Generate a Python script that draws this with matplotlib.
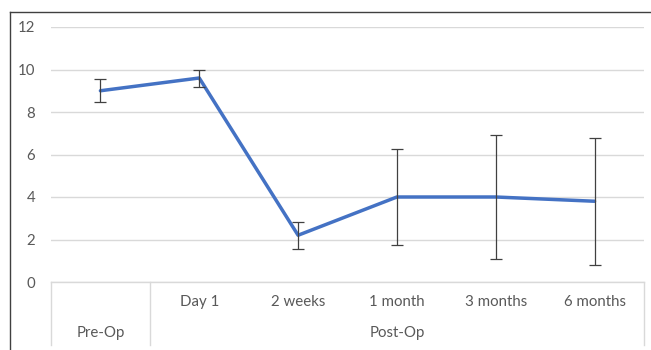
import matplotlib
matplotlib.use("Agg")
import matplotlib.pyplot as plt
from matplotlib.lines import Line2D
import matplotlib.transforms as mtransforms

plt.rcParams['font.family'] = ['Lato', 'DejaVu Sans']

# Data
categories = ["Pre-Op", "Day 1", "2 weeks", "1 month", "3 months", "6 months"]
groups = ["Pre-Op", "Post-Op"]
group_sizes = [1, 5]
means = [9.0, 9.6, 2.2, 4.0, 4.0, 3.8]
errors = [0.55, 0.4, 0.63, 2.25, 2.9, 3.0]
yticks = [0, 2, 4, 6, 8, 10, 12]

TEXT = "#595959"
GRID = "#d9d9d9"
BLUE = "#4472C4"
FS = 10.8

W, H = 651, 350
fig = plt.figure(figsize=(W / 100, H / 100), dpi=100)
ax = fig.add_axes([51 / W, (H - 282) / H, (644 - 51) / W, (282 - 27) / H])

x = list(range(len(categories)))
ax.plot(x, means, color=BLUE, lw=2.5, solid_capstyle="round", zorder=3)
ax.errorbar(x, means, yerr=errors, fmt="none", ecolor="#404040",
            elinewidth=0.9, capsize=4, capthick=0.9, zorder=4)

ax.set_xlim(-0.5, len(categories) - 0.5)
ax.set_ylim(0, 12)
ax.set_yticks(yticks)
ax.set_xticks([])
ax.yaxis.grid(True, color=GRID, lw=1)
ax.set_axisbelow(True)
for s in ax.spines.values():
    s.set_visible(False)
ax.tick_params(axis="y", length=0, pad=11.5, labelsize=FS, labelcolor=TEXT)

# Two-level category axis drawn as a table below the plot
trans = mtransforms.blended_transform_factory(ax.transData, ax.transAxes)
bottom = -63 / 255
ax.add_line(Line2D([-0.5, len(categories) - 0.5], [0, 0], transform=trans,
                   color=GRID, lw=1, clip_on=False))
edges = [-0.5]
acc = -0.5
for n in group_sizes:
    acc += n
    edges.append(acc)
for e in edges:
    ax.add_line(Line2D([e, e], [0, bottom], transform=trans, color=GRID,
                       lw=1, clip_on=False))

start = 0
for g, n in zip(groups, group_sizes):
    if n > 1:
        for i in range(start, start + n):
            ax.text(i, -20 / 255, categories[i], transform=trans, ha="center",
                    va="center", fontsize=FS, color=TEXT)
    ax.text(start + (n - 1) / 2, -51 / 255, g, transform=trans, ha="center",
            va="center", fontsize=FS, color=TEXT)
    start += n

# Chart frame (top and left edges)
fig.add_artist(Line2D([10 / W, 10 / W], [0, 1 - 11.5 / H], transform=fig.transFigure,
                      color="#404040", lw=1))
fig.add_artist(Line2D([10 / W, 1], [1 - 11.5 / H, 1 - 11.5 / H], transform=fig.transFigure,
                      color="#404040", lw=1))

fig.savefig("out.png", dpi=100, facecolor="white")
